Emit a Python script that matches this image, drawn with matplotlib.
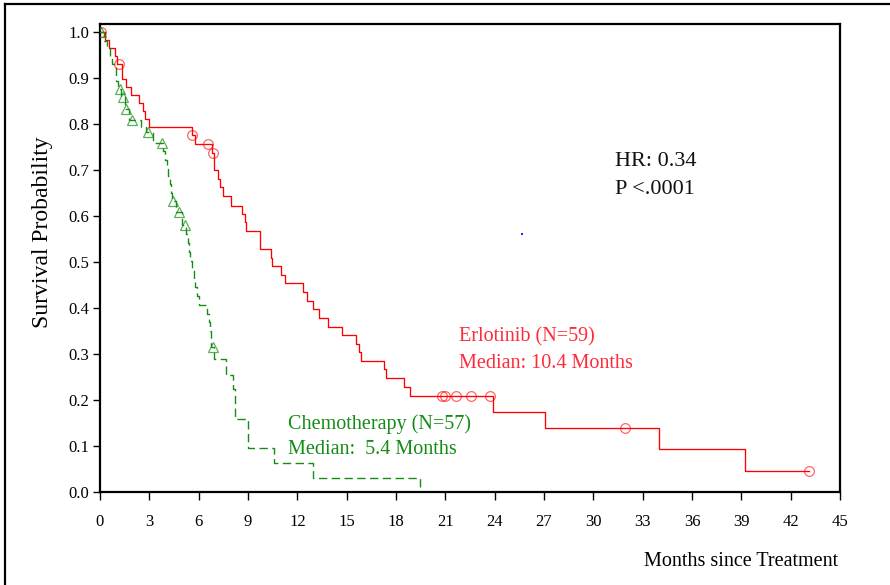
import matplotlib
matplotlib.use("Agg")
import matplotlib.pyplot as plt
from matplotlib.lines import Line2D

plt.rcParams['font.family'] = ['Liberation Serif', 'DejaVu Serif']
plt.rcParams['lines.scale_dashes'] = False

# ---- data ----
erl_t = [0, 0.3, 0.57, 0.91, 1.02, 1.36, 1.59, 1.87, 2.4, 2.64, 2.74, 3.0,
         5.59, 5.79, 6.83, 6.95, 7.2, 7.3, 7.48, 7.99, 8.64, 8.84, 8.9, 9.71,
         10.37, 10.47, 11.0, 11.28, 12.34, 12.6, 12.95, 13.3, 13.84, 14.74,
         15.59, 15.75, 15.85, 17.27, 17.4, 18.5, 18.86, 23.9, 27.07, 34.0,
         39.2, 43.1]
erl_s = [1.0, 0.983, 0.966, 0.949, 0.932, 0.898, 0.880, 0.863, 0.846, 0.829, 0.811, 0.794,
         0.776, 0.756, 0.738, 0.700, 0.681, 0.663, 0.643, 0.623, 0.605, 0.587, 0.567, 0.529,
         0.510, 0.492, 0.473, 0.455, 0.435, 0.415, 0.398, 0.378, 0.359, 0.341,
         0.322, 0.304, 0.285, 0.267, 0.249, 0.229, 0.209, 0.174, 0.139, 0.093,
         0.046, 0.046]
erl_cens_t = [0.05, 1.18, 5.6, 6.54, 6.85, 20.8, 21.0, 21.65, 22.55, 23.7, 31.9, 43.1]
erl_cens_s = [1.0, 0.932, 0.776, 0.756, 0.738, 0.209, 0.209, 0.209, 0.209, 0.209, 0.139, 0.046]

chemo_t = [0, 0.25, 0.45, 0.6, 0.75, 0.95, 1.0, 1.1, 1.3, 1.5, 1.75, 2.5, 2.8, 3.2,
           3.85, 3.95, 4.05, 4.15, 4.25, 4.33, 4.4, 4.65, 5.0,
           5.25, 5.33, 5.42, 5.5, 5.6, 5.7, 5.8, 5.9, 6.04,
           6.5, 6.6, 6.7, 6.78, 6.95, 7.66, 8.07, 8.23, 9.0, 10.6, 12.93, 19.45]
chemo_s = [1.0, 0.982, 0.965, 0.947, 0.93, 0.912, 0.895, 0.877, 0.86, 0.834, 0.81, 0.795, 0.783, 0.76,
           0.741, 0.723, 0.705, 0.687, 0.669, 0.651, 0.633, 0.609, 0.58,
           0.561, 0.541, 0.522, 0.503, 0.484, 0.464, 0.445, 0.426, 0.407,
           0.388, 0.369, 0.35, 0.316, 0.289, 0.255, 0.223, 0.159, 0.096, 0.063, 0.031, 0.0]
chemo_cens_t = [0.05, 1.22, 1.38, 1.59, 1.93, 2.89, 3.76, 4.45, 4.8, 5.14, 6.85]
chemo_cens_s = [1.0, 0.877, 0.86, 0.834, 0.81, 0.783, 0.76, 0.633, 0.609, 0.58, 0.316]

stray_point_t = [25.67]
stray_point_s = [0.562]

x_ticks = [0, 3, 6, 9, 12, 15, 18, 21, 24, 27, 30, 33, 36, 39, 42, 45]
y_ticks = [0.0, 0.1, 0.2, 0.3, 0.4, 0.5, 0.6, 0.7, 0.8, 0.9, 1.0]
y_tick_labels = ['%.1f' % v for v in y_ticks]

RED = '#ff0000'
GREEN = '#158c15'

W, H = 890, 585
fig = plt.figure(figsize=(W / 100, H / 100), dpi=100)
ax = fig.add_axes([100 / W, 1 - 492 / H, 740 / W, 468 / H])

ax.step(erl_t, erl_s, where='post', color=RED, lw=0.95, zorder=3)
ax.plot(erl_cens_t, erl_cens_s, ls='none', marker='o', ms=7, mfc='none',
        mec=RED, mew=0.9, alpha=0.6, zorder=4)

ax.step(chemo_t, chemo_s, where='post', color=GREEN, lw=1.0,
        linestyle=(0, (6, 3.2)), zorder=3)
ax.plot(chemo_cens_t, chemo_cens_s, ls='none', marker='^', ms=7.5, mfc='none',
        mec=GREEN, mew=0.9, alpha=0.7, zorder=4)

ax.plot(stray_point_t, stray_point_s, ls='none', marker='s', ms=1.6, color='#2020ff', mew=0)

ax.set_xlim(0, 45)
ax.set_ylim(0, 1.018)
ax.set_xticks(x_ticks)
ax.set_xticklabels([str(v) for v in x_ticks])
ax.set_yticks(y_ticks)
ax.set_yticklabels(y_tick_labels)

for sp in ax.spines.values():
    sp.set_linewidth(1.6)
    sp.set_color('black')
ax.tick_params(axis='x', direction='out', length=6, width=1.0, pad=10, labelsize=12)
ax.tick_params(axis='y', direction='out', length=5, width=1.0, pad=3, labelsize=12)

ax.set_ylabel('Survival Probability', fontsize=17)
ax.yaxis.set_label_coords(-0.064, 0.556)

def px(x, y):
    return x / W, 1 - y / H

fig.text(*px(838, 561), 'Months since Treatment', ha='right', va='center', fontsize=14.5)

fig.text(*px(459, 337), 'Erlotinib (N=59)', ha='left', va='center', fontsize=14.5, color='#ff2a3a')
fig.text(*px(459, 363), 'Median: 10.4 Months', ha='left', va='center', fontsize=14.5, color='#ff2a3a')
fig.text(*px(288, 424), 'Chemotherapy (N=57)', ha='left', va='center', fontsize=14.5, color=GREEN)
fig.text(*px(288, 450), 'Median:  5.4 Months', ha='left', va='center', fontsize=14.5, color=GREEN)
fig.text(*px(615, 162), 'HR: 0.34', ha='left', va='center', fontsize=16, color='#111111')
fig.text(*px(615, 189), 'P <.0001', ha='left', va='center', fontsize=16, color='#111111')

# outer frame (left and top edges)
fig.add_artist(Line2D([5 / W, 5 / W], [0, 1 - 4 / H], transform=fig.transFigure, color='black', lw=1.6))
fig.add_artist(Line2D([5 / W, 1], [1 - 4 / H, 1 - 4 / H], transform=fig.transFigure, color='black', lw=1.6))

fig.savefig('out.png', dpi=100)
